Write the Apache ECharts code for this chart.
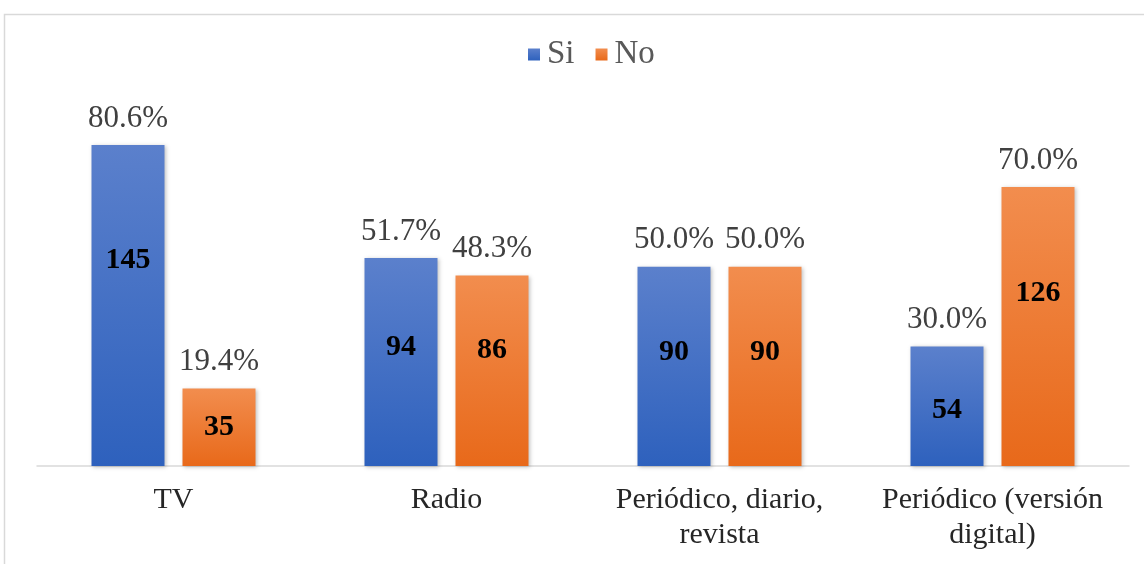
<!DOCTYPE html>
<html>
<head>
<meta charset="utf-8">
<script src="https://cdn.jsdelivr.net/npm/echarts@6/dist/echarts.min.js"></script>
<style>
html,body{margin:0;padding:0;background:#fff;}
#chart{width:1144px;height:564px;}
</style>
</head>
<body>
<div id="chart"></div>
<script>
const categories = ['TV', 'Radio', 'Periódico, diario,\nrevista', 'Periódico (versión\ndigital)'];
const seriesNames = ['Si', 'No'];
const siCounts = [145, 94, 90, 54];
const noCounts = [35, 86, 90, 126];
const siPercents = ['80.6%', '51.7%', '50.0%', '30.0%'];
const noPercents = ['19.4%', '48.3%', '50.0%', '70.0%'];
// vertical position of the count label inside each bar (fraction from top) — styling only
const siCountLabelPos = ['36%', '43%', '43%', '53%'];
const noCountLabelPos = ['50%', '39%', '43%', '38%'];

const FONT = '"Liberation Serif", "Times New Roman", serif';
const BAR_W = 73, BAR_GAP = 18;
const chart = echarts.init(document.getElementById('chart'), null, {renderer: 'canvas'});

function grad(top, bottom) {
  return new echarts.graphic.LinearGradient(0, 0, 0, 1, [
    {offset: 0, color: top}, {offset: 1, color: bottom}
  ]);
}

function barSeries(name, counts, countPos, color) {
  return {
    name: name,
    type: 'bar',
    barWidth: BAR_W,
    barGap: (BAR_GAP / BAR_W * 100) + '%',
    data: counts.map((v, i) => ({value: v, label: {position: ['50%', countPos[i]]}})),
    itemStyle: {
      color: color,
      shadowBlur: 4,
      shadowColor: 'rgba(0,0,0,0.25)',
      shadowOffsetX: 1,
      shadowOffsetY: 1
    },
    label: {
      show: true,
      formatter: '{c}',
      fontFamily: FONT,
      fontSize: 30,
      fontWeight: 'bold',
      color: '#000',
      align: 'center',
      verticalAlign: 'middle'
    },
    emphasis: {disabled: true},
    z: 2
  };
}

const option = {
  backgroundColor: '#fff',
  animation: false,
  graphic: [{
    type: 'rect',
    shape: {x: 4.5, y: 14.5, width: 1160, height: 580},
    style: {fill: 'none', stroke: '#d9d9d9', lineWidth: 1.5},
    silent: true,
    z: 0
  }],
  legend: {
    data: seriesNames,
    top: 33,
    left: 523,
    itemWidth: 12,
    itemHeight: 12,
    itemGap: 21,
    icon: 'rect',
    textStyle: {fontFamily: FONT, fontSize: 33, color: '#595959', padding: [0, 0, 0, 2]}
  },
  grid: {left: 37, right: 15, top: 67.5, bottom: 98},
  xAxis: {
    type: 'category',
    data: categories,
    axisLine: {show: true, lineStyle: {color: '#d9d9d9', width: 1.5}},
    axisTick: {show: false},
    axisLabel: {
      fontFamily: FONT,
      fontSize: 30,
      color: '#262626',
      margin: 17,
      lineHeight: 35,
      interval: 0
    }
  },
  yAxis: {type: 'value', min: 0, max: 180, show: false},
  series: [
    barSeries('Si', siCounts, siCountLabelPos, grad('#5b80cc', '#2e61bd')),
    barSeries('No', noCounts, noCountLabelPos, grad('#f28d4e', '#e8691a')),
    {
      type: 'custom',
      name: 'pct',
      silent: true,
      z: 5,
      encode: {x: 0, y: 1},
      data: categories.map((c, i) => [i, siCounts[i], noCounts[i]]),
      renderItem: function (params, api) {
        const idx = api.value(0);
        const base = api.coord([idx, 0]);
        const siX = base[0] - (BAR_W + BAR_GAP) / 2;
        const noX = base[0] + (BAR_W + BAR_GAP) / 2;
        const siTop = api.coord([idx, api.value(1)])[1];
        const noTop = api.coord([idx, api.value(2)])[1];
        const mk = (x, y, t) => ({
          type: 'text',
          style: {
            x: x, y: y - 11, text: t,
            fontFamily: FONT, fontSize: 31, fill: '#404040',
            align: 'center', verticalAlign: 'bottom'
          }
        });
        return {
          type: 'group',
          children: [
            mk(siX, siTop, siPercents[params.dataIndex]),
            mk(noX, noTop, noPercents[params.dataIndex])
          ]
        };
      }
    }
  ]
};

chart.setOption(option);
</script>
</body>
</html>
